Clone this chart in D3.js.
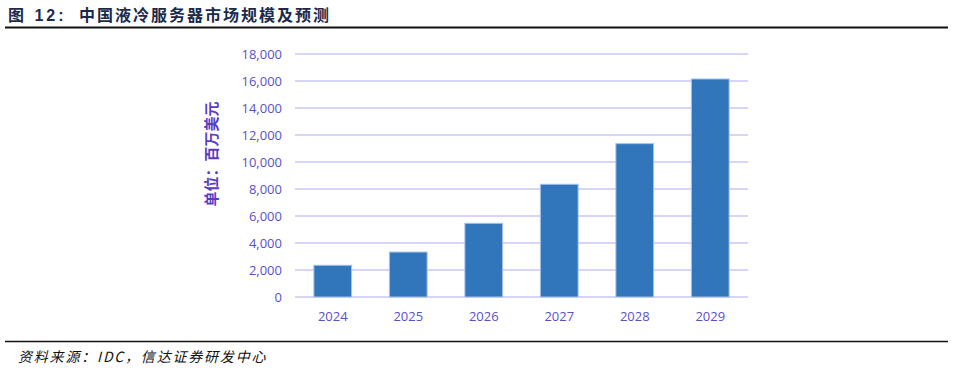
<!DOCTYPE html>
<html>
<head>
<meta charset="utf-8">
<script src="https://cdn.jsdelivr.net/npm/d3@7"></script>
<style>
body { margin: 0; background: #fff; }
svg { display: block; }
</style>
</head>
<body>
<svg id="svg" width="953" height="371"></svg>
<script>
var years = ["2024", "2025", "2026", "2027", "2028", "2029"]
var values = [2350, 3330, 5460, 8350, 11360, 16150]
var yTicks = [0, 2000, 4000, 6000, 8000, 10000, 12000, 14000, 16000, 18000]

var svg = d3.select("#svg")
var cjk = "'Noto Sans CJK SC', sans-serif"
var latin = "'Open Sans', 'Noto Sans', sans-serif"

// header
var title = svg.append("text")
	.attr("y", 21)
	.style("font-family", "'Liberation Sans', " + cjk)
	.style("font-size", "16px").style("font-weight", "bold")
	.style("fill", "#1b2a4a")
title.append("tspan").attr("x", 8).style("letter-spacing", "3px").text("图 12:")
title.append("tspan").attr("x", 79).style("letter-spacing", "2px")
	.text("中国液冷服务器市场规模及预测")

svg.append("line")
	.attr("x1", 5).attr("x2", 948).attr("y1", 27.5).attr("y2", 27.5)
	.style("stroke", "#111").style("stroke-width", 2)

svg.append("line")
	.attr("x1", 5).attr("x2", 948).attr("y1", 341.5).attr("y2", 341.5)
	.style("stroke", "#111").style("stroke-width", 1.5)

svg.append("text")
	.attr("x", 18).attr("y", 362)
	.style("font-family", cjk)
	.style("font-size", "14px").style("font-style", "italic")
	.style("letter-spacing", "1.8px")
	.style("fill", "#111")
	.text("资料来源：IDC，信达证券研发中心")

// chart
var x = d3.scaleBand().domain(years).range([295, 748]).paddingInner(0.5).paddingOuter(0.25)
var y = d3.scaleLinear().domain([0, 18000]).range([297, 54])

var grid = svg.append("g")
grid.selectAll("line").data(yTicks).enter().append("line")
	.attr("x1", 295).attr("x2", 748)
	.attr("y1", function (d) { return y(d) }).attr("y2", function (d) { return y(d) })
	.style("stroke", "#c9c6f4").style("stroke-width", 1.3)

var yAxis = svg.append("g")
	.attr("transform", "translate(282,0)")
	.call(d3.axisLeft(y).tickValues(yTicks).tickSize(0).tickPadding(0).tickFormat(d3.format(",")))
yAxis.select(".domain").remove()
yAxis.selectAll("text")
	.style("font-family", latin).style("font-size", "13px").style("fill", "#5a50c8")

var xAxis = svg.append("g")
	.attr("transform", "translate(0,297)")
	.call(d3.axisBottom(x).tickSize(0).tickPadding(15))
xAxis.select(".domain").remove()
xAxis.selectAll("text")
	.style("font-family", latin).style("font-size", "13px").style("fill", "#5a50c8")

svg.append("g").selectAll("rect").data(values).enter().append("rect")
	.attr("x", function (d, i) { return x(years[i]) })
	.attr("width", x.bandwidth())
	.attr("y", function (d) { return y(d) })
	.attr("height", function (d) { return y(0) - y(d) })
	.style("fill", "#3176bb")
	.style("stroke", "#a8c2ea").style("stroke-width", 1)

svg.append("text")
	.attr("transform", "translate(217,154) rotate(-90)")
	.attr("text-anchor", "middle")
	.style("font-family", cjk)
	.style("font-size", "15px").style("font-weight", "bold")
	.style("fill", "#5a3cc4")
	.text("单位：百万美元")
</script>
</body>
</html>
